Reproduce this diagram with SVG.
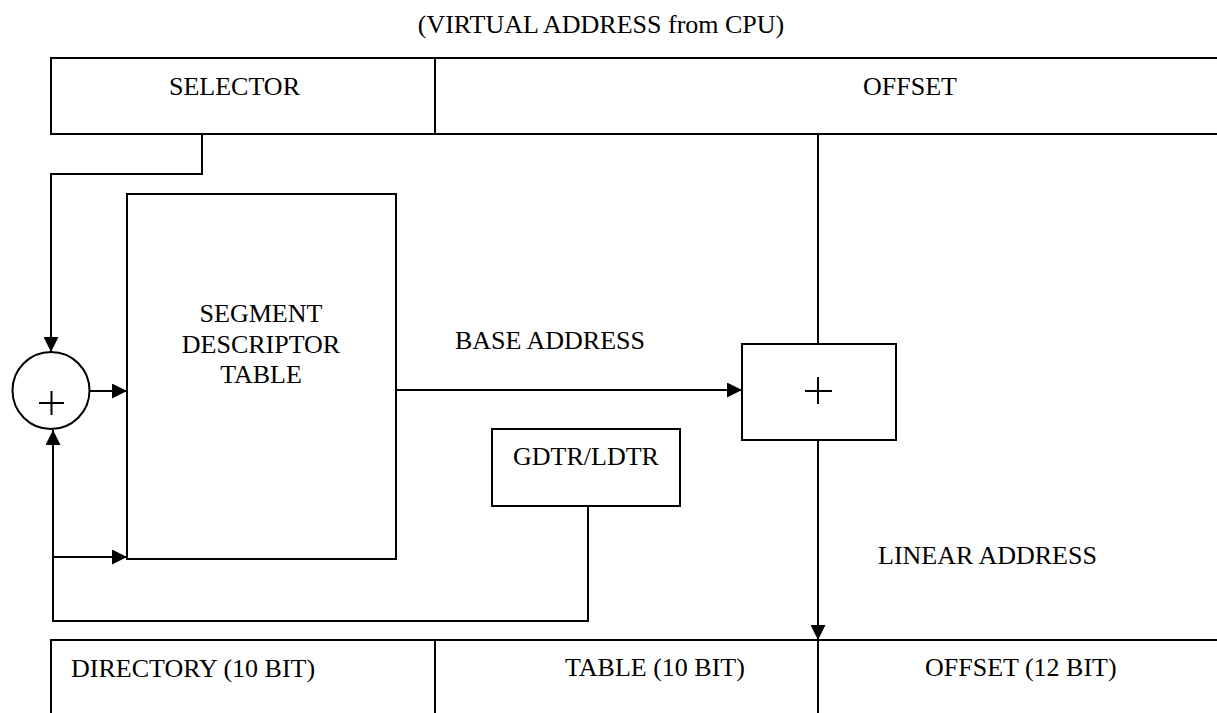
<svg xmlns="http://www.w3.org/2000/svg" width="1217" height="713" viewBox="0 0 1217 713">
<style>
.l{stroke:#000;stroke-width:2;fill:none}
.b{stroke:#000;stroke-width:2;fill:#fff}
.t{font-family:"Liberation Serif","Times New Roman",serif;font-size:26px;fill:#000}
.m{text-anchor:middle}
</style>
<defs>
<marker id="ah" markerWidth="15" markerHeight="15" refX="15" refY="7.5" orient="auto" markerUnits="userSpaceOnUse">
<path d="M0,0 L15,7.5 L0,15 Z" fill="#000"/>
</marker>
</defs>
<rect width="1217" height="713" fill="#fff"/>
<text class="t m" x="601" y="33">(VIRTUAL ADDRESS from CPU)</text>
<g id="virtual-address">
<path class="l" d="M1217,58 H51 V134 H1217" stroke-width="2.5"/>
<line class="l" x1="435" y1="58" x2="435" y2="134"/>
<text class="t m" x="234.5" y="95">SELECTOR</text>
<text class="t m" x="910" y="95">OFFSET</text>
</g>
<g id="sdt">
<rect class="b" x="127" y="194" width="269" height="365"/>
<text class="t m" x="261" y="322">SEGMENT</text>
<text class="t m" x="261" y="353">DESCRIPTOR</text>
<text class="t m" x="261" y="383">TABLE</text>
</g>
<g id="adder1">
<circle class="b" cx="51" cy="390.5" r="38.5"/>
<line class="l" x1="39" y1="403" x2="64" y2="403" stroke-width="2.5"/>
<line class="l" x1="51.5" y1="391" x2="51.5" y2="415" stroke-width="2.5"/>
</g>
<g id="adder2">
<rect class="b" x="742" y="344" width="154" height="96"/>
<line class="l" x1="805" y1="391" x2="832" y2="391" stroke-width="3"/>
<line class="l" x1="818" y1="377" x2="818" y2="404" stroke-width="3"/>
</g>
<g id="gdtr">
<rect class="b" x="492" y="429" width="188" height="77"/>
<text class="t" x="513" y="465">GDTR/LDTR</text>
</g>
<g id="linear-address">
<path class="l" d="M1217,640 H51 V713"/>
<line class="l" x1="435" y1="640" x2="435" y2="713"/>
<line class="l" x1="818" y1="640" x2="818" y2="713"/>
<text class="t" x="71" y="677">DIRECTORY (10 BIT)</text>
<text class="t" x="565" y="676">TABLE (10 BIT)</text>
<text class="t" x="925" y="676">OFFSET (12 BIT)</text>
</g>
<g id="connectors">
<path class="l" d="M202,134 V174 H51 V352" marker-end="url(#ah)"/>
<line class="l" x1="90" y1="391" x2="127" y2="391" marker-end="url(#ah)"/>
<path class="l" d="M588,506 V621 H53 V430" marker-end="url(#ah)"/>
<line class="l" x1="53" y1="557" x2="127" y2="557" marker-end="url(#ah)"/>
<line class="l" x1="396" y1="390" x2="742" y2="390" marker-end="url(#ah)"/>
<line class="l" x1="818" y1="134" x2="818" y2="344"/>
<line class="l" x1="818" y1="440" x2="818" y2="640" marker-end="url(#ah)"/>
<text class="t" x="455" y="349">BASE ADDRESS</text>
<text class="t" x="878" y="564">LINEAR ADDRESS</text>
</g>
</svg>
